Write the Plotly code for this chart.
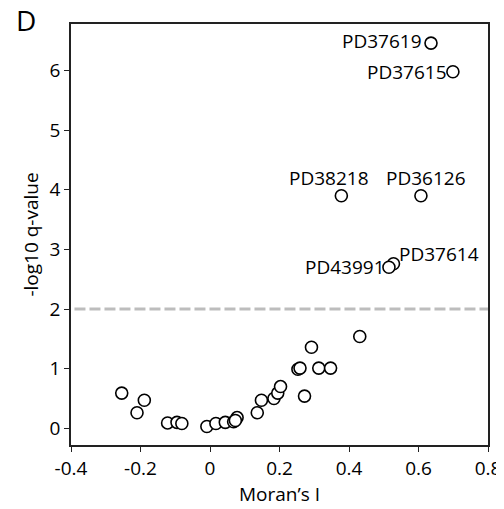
import plotly.graph_objects as go

# unlabeled points (Moran's I, -log10 q)
moran = [-0.254, -0.210, -0.189, -0.122, -0.095, -0.081, -0.009, 0.017, 0.044,
         0.068, 0.078, 0.073, 0.136, 0.148, 0.184, 0.195, 0.203, 0.253, 0.259,
         0.272, 0.292, 0.313, 0.347, 0.431]
qval = [0.59, 0.26, 0.47, 0.09, 0.10, 0.08, 0.03, 0.08, 0.10,
        0.11, 0.18, 0.13, 0.26, 0.47, 0.50, 0.59, 0.70, 0.99, 1.01,
        0.54, 1.36, 1.01, 1.01, 1.54]

# labeled points
lab_names = ["PD37619", "PD37615", "PD38218", "PD36126", "PD37614", "PD43991"]
lab_x = [0.636, 0.699, 0.378, 0.607, 0.528, 0.515]
lab_y = [6.46, 5.98, 3.90, 3.90, 2.76, 2.70]

# label placement (anchor, pixel offsets from the point)
lab_xanchor = ["right", "right", "center", "center", "left", "right"]
lab_dx = [-8, -5, -12, 5, 5, -3]
lab_dy = [2, 0, 18, 18, 10, 0]

threshold = 2
x_ticks = [-0.4, -0.2, 0, 0.2, 0.4, 0.6, 0.8]
x_ticktext = ["-0.4", "-0.2", "0", "0.2", "0.4", "0.6", "0.8"]
y_ticks = [0, 1, 2, 3, 4, 5, 6]

FONT = "Open Sans"
FS = 19
marker = dict(size=12, color="white", line=dict(color="black", width=1.6))

fig = go.Figure()
fig.add_shape(type="line", xref="x", yref="y", x0=-0.39, x1=0.8, y0=threshold, y1=threshold,
              line=dict(color="#bdbdbd", width=3, dash="11px,4px"), layer="below")
fig.add_trace(go.Scatter(x=moran, y=qval, mode="markers", marker=marker,
                         showlegend=False, cliponaxis=False))
fig.add_trace(go.Scatter(x=lab_x, y=lab_y, mode="markers", marker=marker,
                         showlegend=False, cliponaxis=False))

for name, x, y, xa, dx, dy in zip(lab_names, lab_x, lab_y, lab_xanchor, lab_dx, lab_dy):
    fig.add_annotation(text=name, x=x, y=y, xref="x", yref="y", showarrow=False,
                       xanchor=xa, yanchor="middle", xshift=dx, yshift=dy, borderpad=0,
                       font=dict(family=FONT, size=FS, color="black"))

fig.add_annotation(text="D", xref="paper", yref="paper", x=-0.108, y=1.0,
                   xanchor="center", yanchor="middle", showarrow=False, yshift=4,
                   font=dict(family=FONT, size=28, color="black"))

axis_common = dict(showline=True, linecolor="#222222", linewidth=1.5, mirror=True,
                   ticks="outside", ticklen=5, tickcolor="#222222", tickwidth=1.2,
                   showgrid=False, zeroline=False, automargin=False,
                   tickfont=dict(family=FONT, size=FS, color="black"))

# page body has an 8px default margin, so the figure is sized to fit the window
fig.update_layout(
    width=496, height=501,
    margin=dict(l=63, r=16, t=16, b=64),
    plot_bgcolor="white", paper_bgcolor="white",
    xaxis=dict(range=[-0.4, 0.8], tickvals=x_ticks, ticktext=x_ticktext,
               title=dict(text="Moran’s I", font=dict(family=FONT, size=FS, color="black"), standoff=4),
               **axis_common),
    yaxis=dict(range=[-0.28, 6.78], tickvals=y_ticks,
               title=dict(text="-log10 q-value", font=dict(family=FONT, size=FS, color="black"), standoff=6),
               **axis_common),
)

fig.write_html("out.html")
